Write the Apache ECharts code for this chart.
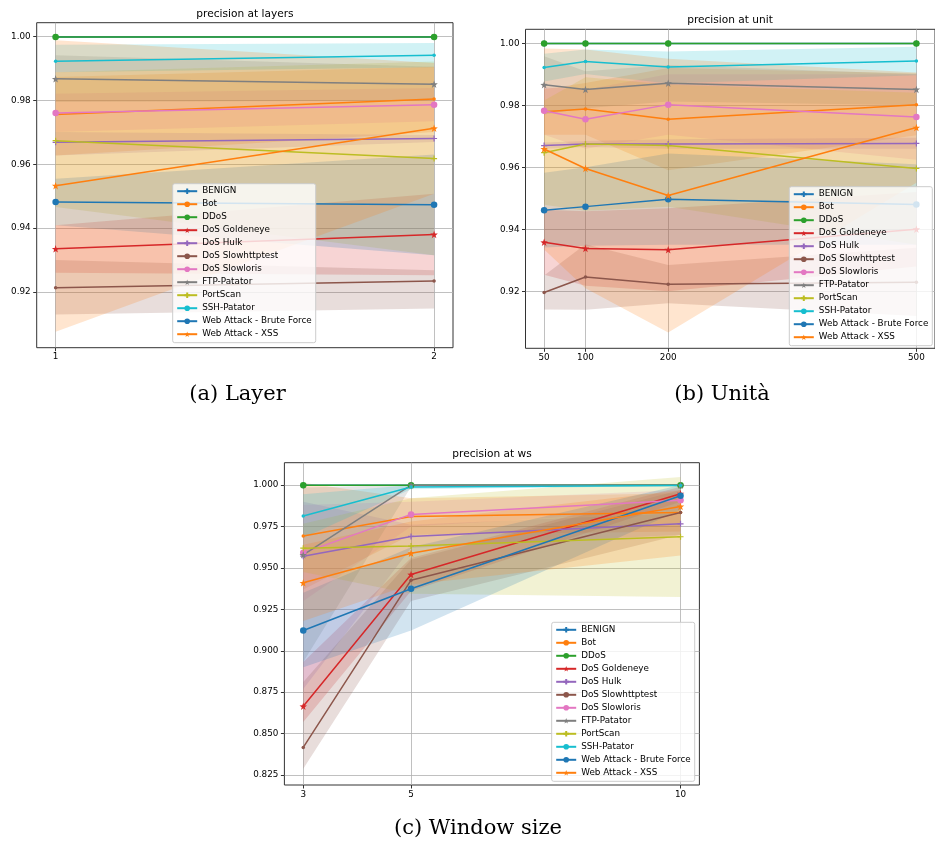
<!DOCTYPE html>
<html>
<head>
<meta charset="utf-8">
<script src="https://cdn.jsdelivr.net/npm/echarts@6/dist/echarts.min.js"></script>
<style>
  html, body { margin: 0; padding: 0; background: #fff; }
  #chart { width: 935px; height: 843px; }
</style>
</head>
<body>
<div id="chart"></div>
<script>
// Traffic classes, in plotting order
const NAMES = ['BENIGN', 'Bot', 'DDoS', 'DoS Goldeneye', 'DoS Hulk', 'DoS Slowhttptest',
  'DoS Slowloris', 'FTP-Patator', 'PortScan', 'SSH-Patator', 'Web Attack - Brute Force', 'Web Attack - XSS'];

// x positions of each sweep
const LAYER_X = [1, 2];
const UNIT_X = [50, 100, 200, 500];
const WS_X = [3, 5, 10];

// y tick values
const TICKS_AB = [0.92, 0.94, 0.96, 0.98, 1.00];
const TICKS_C = [0.825, 0.850, 0.875, 0.900, 0.925, 0.950, 0.975, 1.000];

// precision vs number of layers: mean, lower and upper band (one row per class)
const LAYER_MEAN = [
  [0.99995, 0.99995], [0.9756, 0.9805], [0.99995, 0.99995], [0.9335, 0.9380],
  [0.9669, 0.9681], [0.9213, 0.9234], [0.9761, 0.9787], [0.9868, 0.9851],
  [0.9674, 0.9618], [0.9923, 0.9942], [0.9482, 0.9473], [0.9533, 0.9713]
];
const LAYER_LOW = [
  [0.9999, 0.9999], [0.9628, 0.9701], [0.9999, 0.9999], [0.9260, 0.9252],
  [0.9628, 0.9670], [0.9129, 0.9148], [0.9701, 0.9735], [0.9795, 0.9800],
  [0.9466, 0.9315], [0.9889, 0.9904], [0.9409, 0.9315], [0.9075, 0.9508]
];
const LAYER_HIGH = [
  [1.0000, 1.0000], [0.9874, 0.9906], [1.0000, 1.0000], [0.9409, 0.9508],
  [0.9701, 0.9692], [0.9300, 0.9268], [0.9821, 0.9839], [0.9942, 0.9906],
  [0.9889, 0.9922], [0.9975, 0.9980], [0.9555, 0.9631], [0.9989, 0.9918]
];

// precision vs number of units
const UNIT_MEAN = [
  [0.99995, 0.99995, 0.99995, 0.99995], [0.9779, 0.9788, 0.9755, 0.9802],
  [0.99995, 0.99995, 0.99995, 0.99995], [0.9358, 0.9338, 0.9334, 0.9400],
  [0.9670, 0.9675, 0.9675, 0.9677], [0.9196, 0.9246, 0.9223, 0.9229],
  [0.9782, 0.9755, 0.9802, 0.9762], [0.9866, 0.9851, 0.9871, 0.9851],
  [0.9647, 0.9675, 0.9670, 0.9596], [0.9922, 0.9941, 0.9923, 0.9943],
  [0.9461, 0.9473, 0.9497, 0.9480], [0.9659, 0.9596, 0.9509, 0.9728]
];
const UNIT_LOW = [
  [0.9999, 0.9999, 0.9999, 0.9999], [0.9705, 0.9705, 0.9590, 0.9703],
  [0.9999, 0.9999, 0.9999, 0.9999], [0.9253, 0.9218, 0.9200, 0.9280],
  [0.9660, 0.9665, 0.9660, 0.9660], [0.9141, 0.9140, 0.9161, 0.9120],
  [0.9705, 0.9660, 0.9705, 0.9624], [0.9770, 0.9790, 0.9812, 0.9800],
  [0.9479, 0.9460, 0.9473, 0.9350], [0.9877, 0.9901, 0.9870, 0.9897],
  [0.9341, 0.9347, 0.9350, 0.9350], [0.9335, 0.9210, 0.9067, 0.9550]
];
const UNIT_HIGH = [
  [1.0000, 1.0000, 1.0000, 1.0000], [0.9852, 0.9872, 0.9920, 0.9903],
  [1.0000, 1.0000, 1.0000, 1.0000], [0.9463, 0.9458, 0.9468, 0.9520],
  [0.9680, 0.9685, 0.9690, 0.9695], [0.9251, 0.9352, 0.9285, 0.9340],
  [0.9858, 0.9850, 0.9900, 0.9900], [0.9958, 0.9910, 0.9930, 0.9900],
  [0.9815, 0.9890, 0.9867, 0.9840], [0.9966, 0.9980, 0.9973, 0.9989],
  [0.9582, 0.9600, 0.9644, 0.9610], [0.9983, 0.9980, 0.9950, 0.9906]
];

// precision vs window size
const WS_MEAN = [
  [0.99995, 0.99995, 0.99995], [0.9692, 0.9811, 0.9835], [0.99995, 0.99995, 0.99995],
  [0.8665, 0.9460, 0.9948], [0.9571, 0.9690, 0.9766], [0.8417, 0.9426, 0.9835],
  [0.9591, 0.9823, 0.9909], [0.9579, 0.99995, 0.99995], [0.9619, 0.9632, 0.9688],
  [0.9813, 0.9988, 0.9998], [0.9122, 0.9374, 0.9936], [0.9410, 0.9589, 0.9871]
];
const WS_LOW = [
  [0.9999, 0.9999, 0.9999], [0.9370, 0.9700, 0.9720], [0.9999, 0.9999, 0.9999],
  [0.8570, 0.9360, 0.9900], [0.8770, 0.9620, 0.9700], [0.8288, 0.9300, 0.9700],
  [0.9300, 0.9750, 0.9850], [0.8932, 0.9990, 0.9995], [0.9475, 0.9344, 0.9324],
  [0.9682, 0.9975, 0.9994], [0.8900, 0.9123, 0.9850], [0.9180, 0.9400, 0.9575]
];
const WS_HIGH = [
  [1.0000, 1.0000, 1.0000], [1.0014, 0.9920, 0.9950], [1.0000, 1.0000, 1.0000],
  [0.8932, 0.9560, 0.9990], [0.9900, 0.9760, 0.9830], [0.8811, 0.9550, 0.9970],
  [0.9880, 0.9900, 0.9970], [0.9985, 1.0000, 1.0000], [0.9767, 0.9920, 1.0048],
  [0.9944, 1.0000, 1.0002], [0.9350, 0.9625, 1.0000], [0.9640, 0.9780, 0.9968]
];

// tab10 palette and marker cycle
const COLORS = ['#1f77b4', '#ff7f0e', '#2ca02c', '#d62728', '#9467bd', '#8c564b',
  '#e377c2', '#7f7f7f', '#bcbd22', '#17becf', '#1f77b4', '#ff7f0e'];
const PLUS = 'path://M0,-5L0,5M-5,0L5,0';
const STAR = 'path://M0,-10L2.35,-3.24L9.51,-3.09L3.8,1.24L5.88,8.09L0,4L-5.88,8.09L-3.8,1.24L-9.51,-3.09L-2.35,-3.24Z';
const MARKERS = [
  { symbol: PLUS, size: 6, stroke: true },
  { symbol: 'circle', size: 3.5, stroke: false },
  { symbol: 'circle', size: 6.5, stroke: false },
  { symbol: STAR, size: 7.5, stroke: false }
];

const FONT = 'DejaVu Sans';
const SERIF = 'DejaVu Serif';

function rgba(hex, a) {
  const n = parseInt(hex.slice(1), 16);
  return 'rgba(' + (n >> 16) + ',' + ((n >> 8) & 255) + ',' + (n & 255) + ',' + a + ')';
}

const panels = [
  { x: LAYER_X, mean: LAYER_MEAN, lo: LAYER_LOW, hi: LAYER_HIGH,
    grid: { left: 36.7, top: 22.7, width: 416.3, height: 325 },
    xRange: [0.95, 2.05], yRange: [0.9025, 1.0044], yTicks: TICKS_AB, digits: 2,
    title: 'precision at layers', titlePos: [245, 14],
    legendPos: [172.7, 183.7] },
  { x: UNIT_X, mean: UNIT_MEAN, lo: UNIT_LOW, hi: UNIT_HIGH,
    grid: { left: 525.5, top: 29.3, width: 410, height: 319 },
    xRange: [27.5, 522.5], yRange: [0.9016, 1.0045], yTicks: TICKS_AB, digits: 2,
    title: 'precision at unit', titlePos: [730, 20.5],
    legendPos: [789.3, 186.7] },
  { x: WS_X, mean: WS_MEAN, lo: WS_LOW, hi: WS_HIGH,
    grid: { left: 284.4, top: 462.7, width: 415, height: 322.3 },
    xRange: [2.65, 10.35], yRange: [0.819, 1.0135], yTicks: TICKS_C, digits: 3,
    title: 'precision at ws', titlePos: [492, 454],
    legendPos: [551.7, 622.3] }
];

const grids = [], xAxes = [], yAxes = [], series = [], legends = [], graphics = [];

panels.forEach((p, g) => {
  grids.push(Object.assign({ show: true, borderColor: '#333', borderWidth: 1, backgroundColor: 'transparent' }, p.grid));

  const axisCommon = {
    gridIndex: g, type: 'value',
    axisLine: { show: false },
    splitLine: { show: true, lineStyle: { color: '#b0b0b0', width: 0.8 } }
  };
  xAxes.push(Object.assign({}, axisCommon, {
    min: p.xRange[0], max: p.xRange[1],
    axisTick: { show: true, length: 3.5, lineStyle: { color: '#333' }, customValues: p.x },
    axisLabel: { customValues: p.x, margin: 5, color: '#000', fontFamily: FONT, fontSize: 8.8 }
  }));
  yAxes.push(Object.assign({}, axisCommon, {
    min: p.yRange[0], max: p.yRange[1],
    axisTick: { show: true, length: 3.5, lineStyle: { color: '#333' }, customValues: p.yTicks },
    axisLabel: { customValues: p.yTicks, margin: 6, color: '#000', fontFamily: FONT, fontSize: 8.8,
      formatter: v => Number(v).toFixed(p.digits) }
  }));

  // shaded spread band of every class
  NAMES.forEach((name, i) => {
    const xs = p.x, lo = p.lo[i], hi = p.hi[i];
    series.push({
      type: 'custom', xAxisIndex: g, yAxisIndex: g, silent: true, z: 1, clip: true,
      data: xs.map((x, j) => [x, lo[j], hi[j]]),
      encode: { x: 0, y: [1, 2] },
      renderItem: (params, api) => {
        if (params.dataIndex !== 0) return null;
        const top = xs.map((x, j) => api.coord([x, hi[j]]));
        const bottom = xs.map((x, j) => api.coord([x, lo[j]])).reverse();
        return { type: 'polygon', shape: { points: top.concat(bottom) },
          style: { fill: rgba(COLORS[i], 0.2) } };
      }
    });
  });

  // mean curve of every class
  NAMES.forEach((name, i) => {
    const m = MARKERS[i % 4];
    series.push({
      type: 'line', name: name, xAxisIndex: g, yAxisIndex: g, z: 2, clip: true,
      data: p.x.map((x, j) => [x, p.mean[i][j]]),
      symbol: m.symbol, symbolSize: m.size, showSymbol: true,
      lineStyle: { width: 1.5, color: COLORS[i] },
      itemStyle: { color: COLORS[i], borderColor: COLORS[i], borderWidth: m.stroke ? 1.2 : 0, opacity: 1 },
      emphasis: { disabled: true }
    });
  });

  legends.push({
    data: NAMES, orient: 'vertical', left: p.legendPos[0], top: p.legendPos[1],
    selectedMode: false, itemWidth: 20, itemHeight: 7, itemGap: 0,
    padding: [1, 4, 2, 3.5],
    backgroundColor: 'rgba(255,255,255,0.8)', borderColor: '#cccccc', borderWidth: 1, borderRadius: 2,
    textStyle: { fontFamily: FONT, fontSize: 8.8, color: '#000', lineHeight: 13 }
  });

  graphics.push({
    type: 'text', x: p.titlePos[0], y: p.titlePos[1], silent: true,
    style: { text: p.title, align: 'center', verticalAlign: 'middle',
      fontFamily: FONT, fontSize: 10.6, fill: '#000' }
  });
});

// sub-figure captions
const CAPTIONS = [['(a) Layer', 237.5, 395], ['(b) Unità', 722, 395], ['(c) Window size', 478, 829]];
CAPTIONS.forEach(c => graphics.push({
  type: 'text', x: c[1], y: c[2], silent: true,
  style: { text: c[0], align: 'center', verticalAlign: 'middle', fontFamily: SERIF, fontSize: 21, fill: '#000' }
}));

const chart = echarts.init(document.getElementById('chart'), null, { renderer: 'canvas' });
chart.setOption({
  animation: false,
  backgroundColor: '#fff',
  grid: grids, xAxis: xAxes, yAxis: yAxes,
  series: series, legend: legends, graphic: graphics,
  tooltip: { show: false }
});
</script>
</body>
</html>
